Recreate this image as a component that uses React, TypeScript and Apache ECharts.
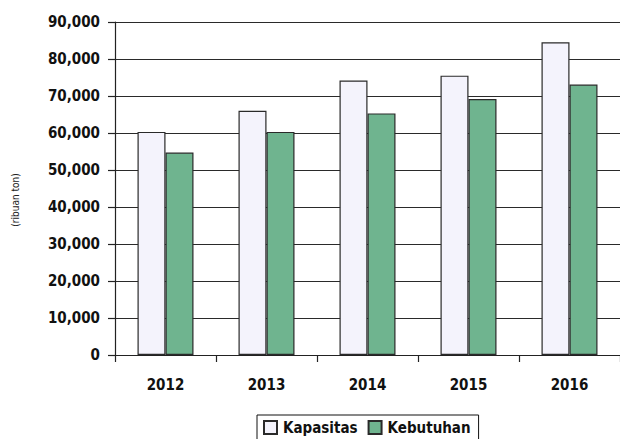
import React, { useEffect, useRef } from "react";
import * as echarts from "echarts";

const years = ["2012", "2013", "2014", "2015", "2016"];
const kapasitas = [60300, 66000, 74200, 75500, 84500];
const kebutuhan = [54700, 60300, 65300, 69200, 73100];
const seriesNames = ["Kapasitas", "Kebutuhan"];
const yTitle = "(ribuan ton)";

const FONT = "'DejaVu Sans Condensed', 'DejaVu Sans', sans-serif";

export default function App() {
  const ref = useRef<HTMLDivElement>(null);
  useEffect(() => {
    document.body.style.margin = "0";
    if (!ref.current) return;
    const chart = echarts.init(ref.current, undefined, { renderer: "svg" });
    chart.setOption({
      animation: false,
      backgroundColor: "#ffffff",
      textStyle: { fontFamily: FONT },
      grid: { left: 115, top: 22, width: 514, height: 333, containLabel: false },
      legend: {
        data: seriesNames,
        left: 257,
        top: 415,
        orient: "horizontal",
        icon: "rect",
        borderColor: "#111",
        borderWidth: 1,
        padding: [5, 8, 7, 6],
        itemWidth: 13,
        itemHeight: 13,
        itemGap: 10,
        textStyle: { fontFamily: FONT, fontWeight: "bold", fontSize: 15, color: "#111", padding: [0, 0, 0, 1] },
      },
      xAxis: {
        type: "category",
        data: years,
        axisLine: { show: true, lineStyle: { color: "#222", width: 1.2 } },
        axisTick: { show: true, length: 7, lineStyle: { color: "#222", width: 1.2 } },
        axisLabel: { margin: 22, fontFamily: FONT, fontWeight: "bold", fontSize: 15, color: "#111" },
        splitLine: { show: false },
      },
      yAxis: {
        type: "value",
        min: 0,
        max: 90000,
        interval: 10000,
        axisLine: { show: true, lineStyle: { color: "#222", width: 1.2 } },
        axisTick: { show: true, length: 7, lineStyle: { color: "#222", width: 1.2 } },
        axisLabel: {
          margin: 15,
          fontFamily: FONT,
          fontWeight: "bold",
          fontSize: 15,
          color: "#111",
          formatter: (v: number) => v.toLocaleString("en-US"),
        },
        splitLine: { show: true, lineStyle: { color: "#2a2a2a", width: 1.2 } },
      },
      graphic: [
        {
          type: "text",
          x: 15,
          y: 200,
          rotation: Math.PI / 2,
          style: {
            text: yTitle,
            fontFamily: FONT,
            fontSize: 10,
            fill: "#222",
            align: "center",
            verticalAlign: "middle",
          },
        },
      ],
      series: [
        {
          name: seriesNames[0],
          type: "bar",
          data: kapasitas,
          barWidth: 28,
          barGap: "0%",
          itemStyle: { color: "#f4f3fc", borderColor: "#2a2a2a", borderWidth: 1.2 },
        },
        {
          name: seriesNames[1],
          type: "bar",
          data: kebutuhan,
          barWidth: 28,
          barGap: "0%",
          itemStyle: { color: "#6fb48f", borderColor: "#2a2a2a", borderWidth: 1.2 },
        },
      ],
    });
    return () => chart.dispose();
  }, []);
  return <div ref={ref} style={{ width: 620, height: 439 }} />;
}
